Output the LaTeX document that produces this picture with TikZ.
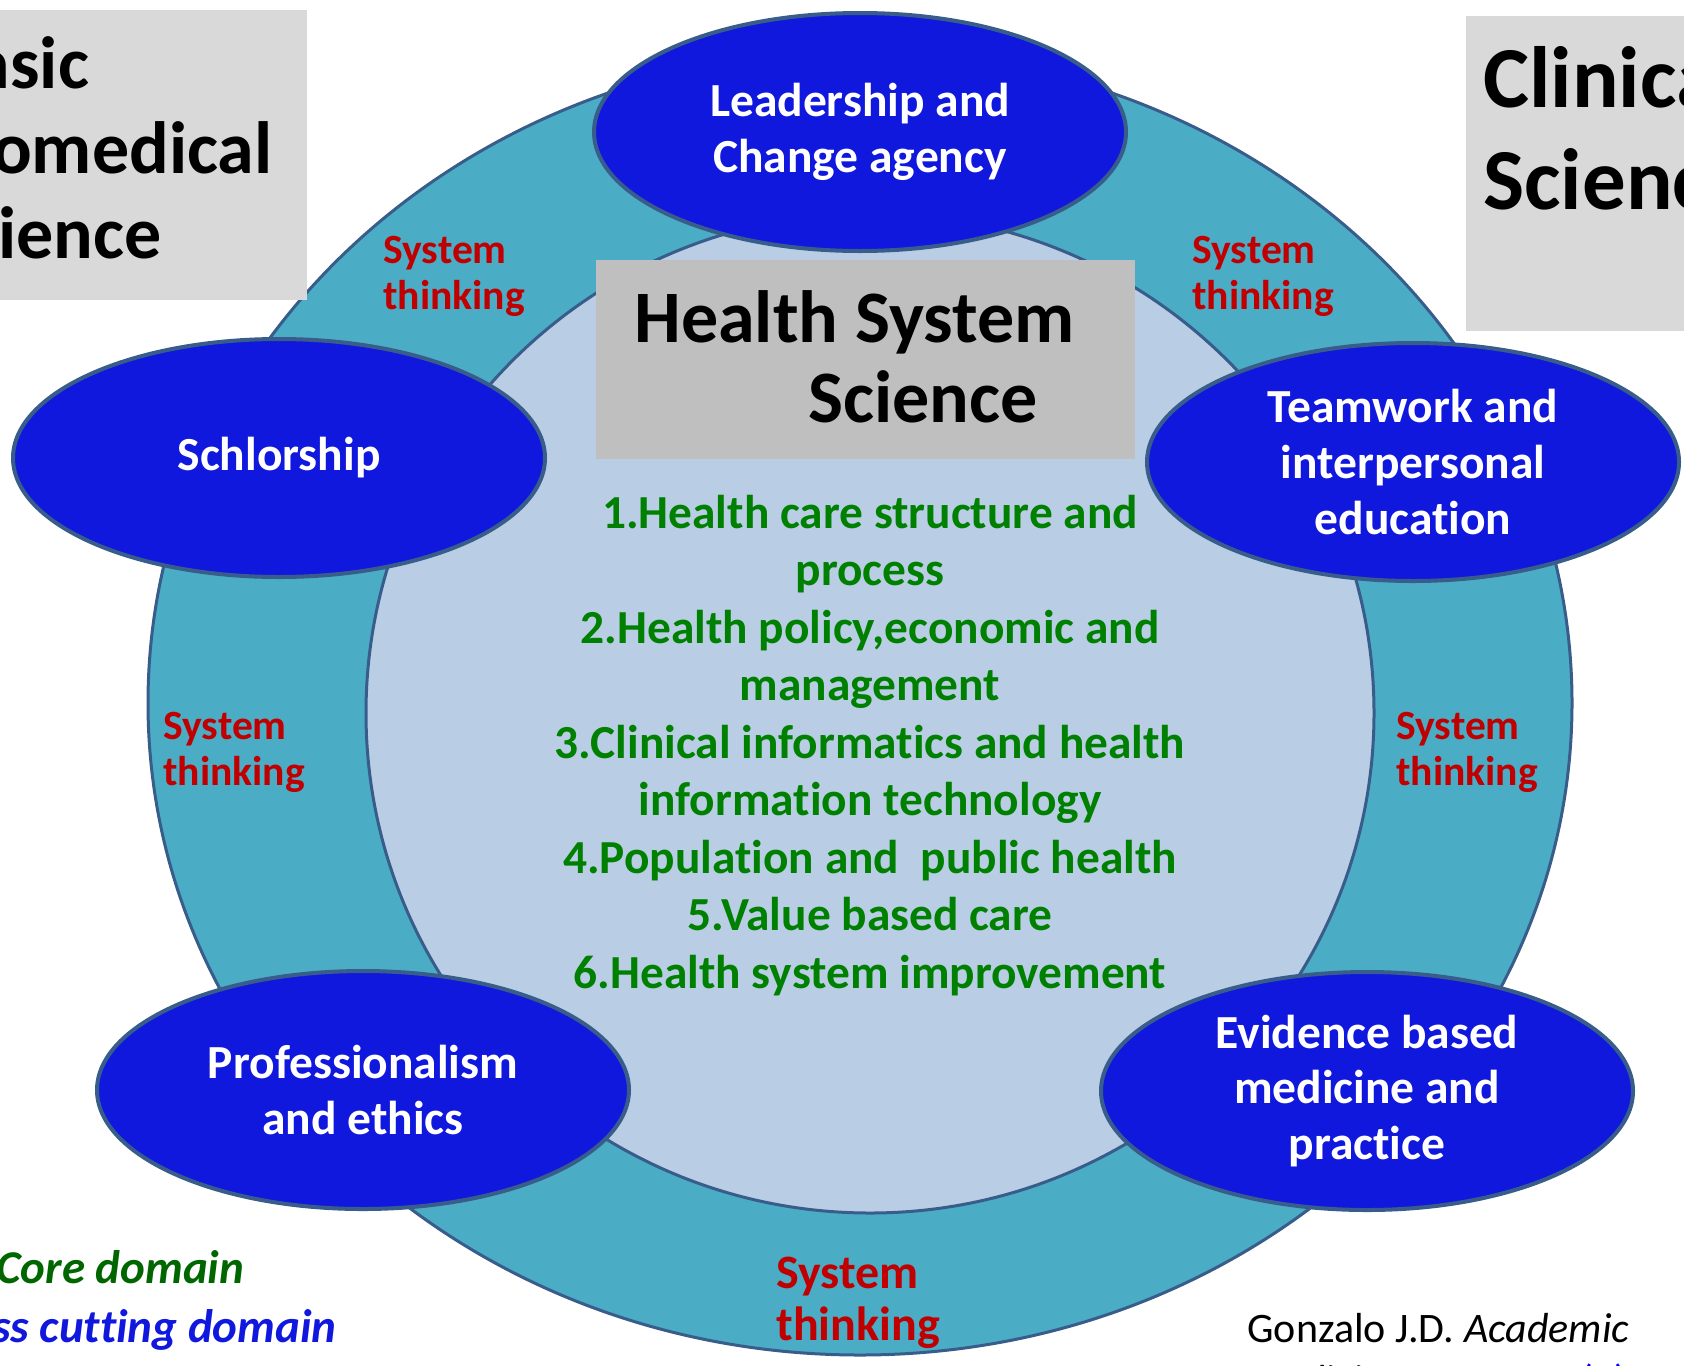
\documentclass[tikz,border=0pt]{standalone}
\usepackage{fontspec}
\setmainfont{Carlito}[Ligatures={NoCommon}]
\usetikzlibrary{shapes.geometric}

\definecolor{ringteal}{RGB}{75,172,198}
\definecolor{corefill}{RGB}{185,205,229}
\definecolor{edgeblue}{RGB}{56,93,138}
\definecolor{domainblue}{RGB}{17,24,222}
\definecolor{thinkred}{RGB}{192,0,0}
\definecolor{listgreen}{RGB}{0,128,0}
\definecolor{legendgreen}{RGB}{0,102,0}
\definecolor{boxgray}{RGB}{217,217,217}
\definecolor{titlegray}{RGB}{191,191,191}
\definecolor{linkblue}{RGB}{0,0,255}

\tikzset{
  competency/.style={ellipse, draw=edgeblue, line width=2pt, fill=domainblue,
    text=white, align=center, inner sep=0pt, minimum width=266pt,
    minimum height=119pt, font=\bfseries\fontsize{23.75}{27.8}\selectfont},
  thinking/.style={anchor=base west, align=left, inner sep=0pt, text=thinkred,
    font=\bfseries\fontsize{20.8}{23}\selectfont},
  sidetext/.style={anchor=base west, align=left, inner sep=0pt},
  legend/.style={anchor=base west, inner sep=0pt,
    font=\bfseries\itshape\fontsize{23.5}{28}\selectfont}
}

\begin{document}
\begin{tikzpicture}[x=0.5pt,y=-0.5pt]
  \useasboundingbox (0,0) rectangle (1684,1365);
  \clip (0,0) rectangle (1684,1365);

  % ring and core
  \draw [draw=edgeblue, line width=1.5pt, fill=ringteal] (860,703) ellipse [x radius=356pt, y radius=326pt];
  \draw [draw=edgeblue, line width=1.5pt, fill=corefill] (870,713) ellipse [x radius=252pt, y radius=250pt];

  % grey boxes
  \fill [boxgray] (-20,10) rectangle (307,300);
  \fill [boxgray] (1466,16) rectangle (1700,331);
  \fill [titlegray] (596,260) rectangle (1135,459);

  \node [sidetext, font=\bfseries\fontsize{37}{42.5}\selectfont] (basic) at (-68,258) {Basic\\Biomedical\\Science};
  \node [sidetext, font=\bfseries\fontsize{43.5}{51}\selectfont] (clinical) at (1483,209) {Clinical\\Science};
  \node [sidetext, font=\bfseries\fontsize{37}{40}\selectfont] (hss) at (634,422) {Health System\\\hspace*{87pt}Science};

  % core domain list
  \node [anchor=base, align=center, inner sep=0pt, text=listgreen,
    font=\bfseries\fontsize{23.7}{28.75}\selectfont] (topics) at (870,988)
    {1.Health care structure and\\process\\2.Health policy,economic and\\management\\
     3.Clinical informatics and health\\information technology\\
     4.Population and\ \ public health\\5.Value based care\\6.Health system improvement};

  % cross cutting domains
  \node [competency] (lead) at (860,132) {Leadership and\\Change agency};
  \node [competency] (schol) at (279,458) {Schlorship};
  \node [competency] (team) at (1413,462) {Teamwork and\\interpersonal\\education};
  \node [competency] (prof) at (363,1090) {Professionalism\\and ethics};
  \node [competency] (evid) at (1367,1091) {Evidence based\\medicine and\\practice};

  \node [thinking] (think1) at (383,309) {System\\thinking};
  \node [thinking] (think2) at (1192,309) {System\\thinking};
  \node [thinking] (think3) at (163,785) {System\\thinking};
  \node [thinking] (think4) at (1396,785) {System\\thinking};
  \node [thinking, font=\bfseries\fontsize{24}{26}\selectfont] (think5) at (776,1340) {System\\thinking};

  % legend and source
  \node [legend, text=legendgreen] (corelabel) at (-4,1283) {Core domain};
  \node [legend, text=domainblue] (crosslabel) at (-74,1342) {Cross cutting domain};
  \node [sidetext, font=\fontsize{21}{25.6}\selectfont] (source) at (1247,1394)
    {Gonzalo J.D. \textit{Academic}\\\textit{Medicine}\ \ \textcolor{linkblue}{2017; 92 (1) 123}};
\end{tikzpicture}
\end{document}
